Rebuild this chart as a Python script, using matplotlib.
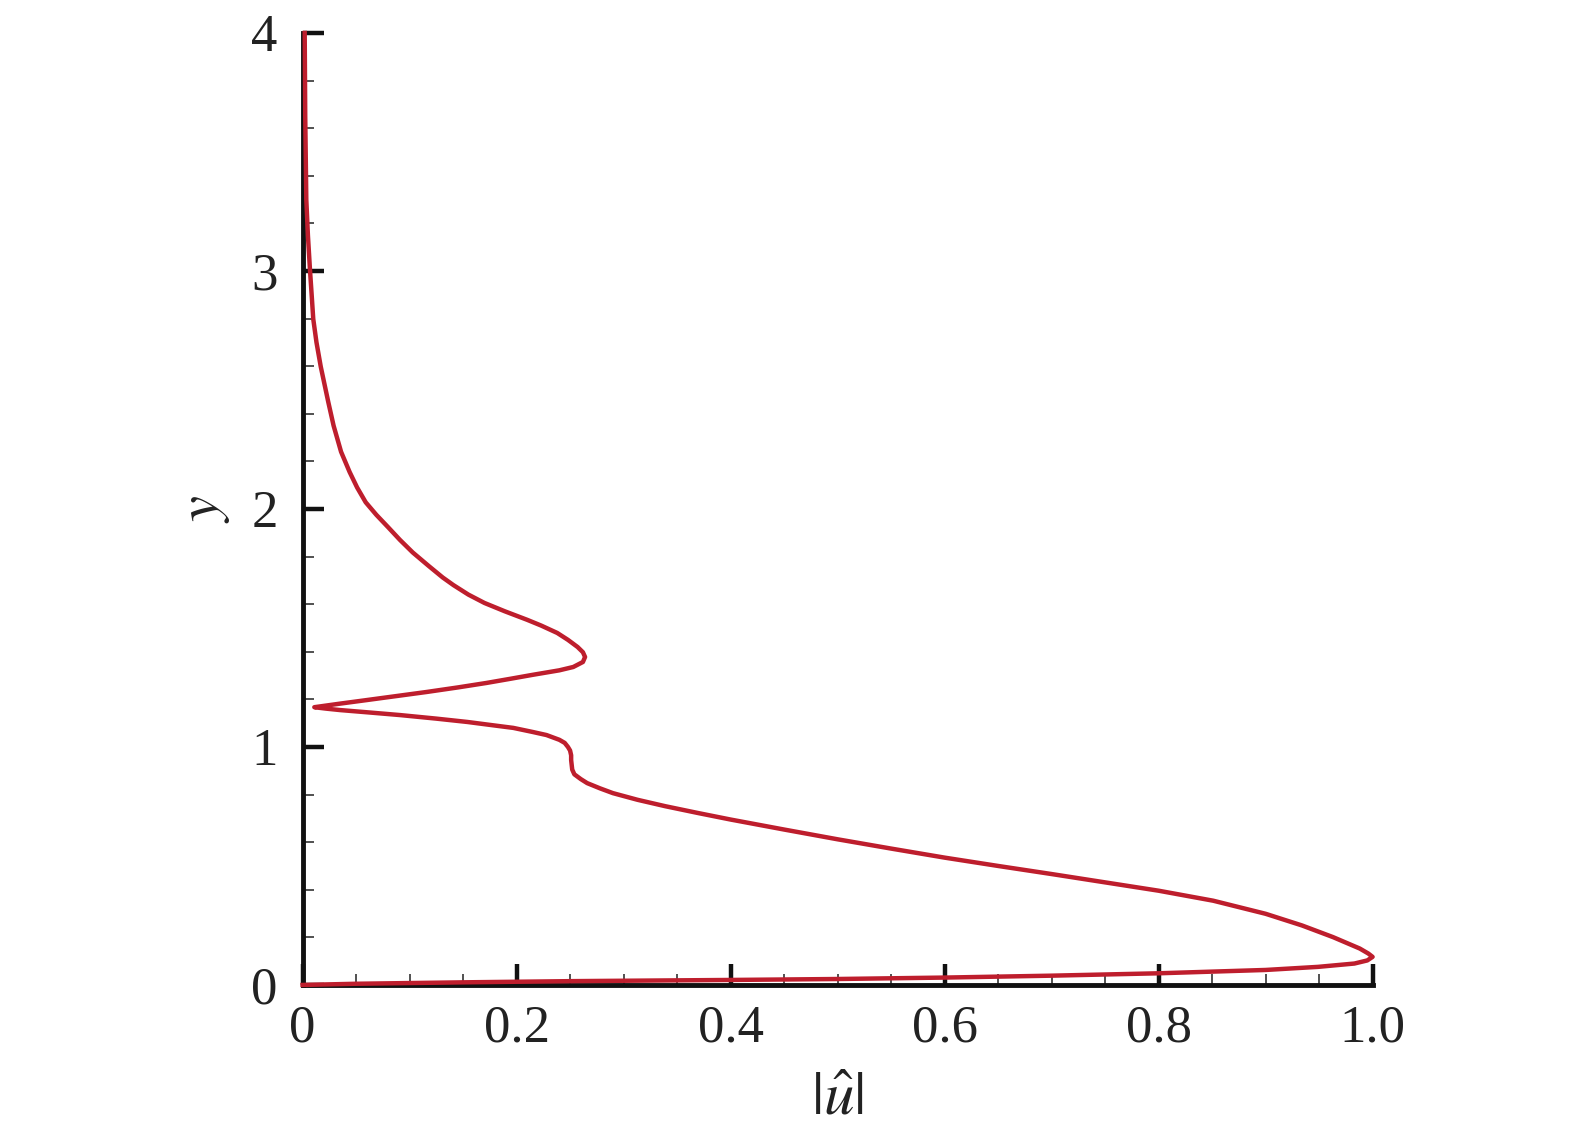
import matplotlib
matplotlib.use('Agg')
import matplotlib.pyplot as plt
from matplotlib.ticker import MultipleLocator, FixedFormatter, FixedLocator

plt.rcParams['font.family'] = ['Liberation Serif', 'DejaVu Serif']
plt.rcParams['mathtext.fontset'] = 'stix'

# |u_hat| profile (path from wall to free stream)
u_abs = [0.0, 0.05, 0.15, 0.251, 0.400, 0.500, 0.600, 0.700, 0.800, 0.900,
         0.949, 0.983, 0.995, 1.0, 0.996, 0.988, 0.963, 0.934, 0.900, 0.851,
         0.800, 0.750, 0.700, 0.650, 0.600, 0.550, 0.500, 0.450, 0.400, 0.370,
         0.339, 0.313, 0.290, 0.278, 0.266, 0.260, 0.254, 0.252, 0.251, 0.251,
         0.250, 0.248, 0.245, 0.240, 0.228, 0.215, 0.197, 0.178, 0.154, 0.125,
         0.091, 0.062, 0.035, 0.022, 0.011,
         0.035, 0.060, 0.088, 0.116, 0.145, 0.172, 0.195, 0.215, 0.240, 0.253,
         0.262, 0.264, 0.262, 0.257, 0.248, 0.238, 0.223, 0.210, 0.189, 0.170,
         0.155, 0.141, 0.131, 0.118, 0.103, 0.091, 0.080, 0.069, 0.059, 0.051,
         0.044, 0.036, 0.029, 0.024, 0.017, 0.013, 0.010, 0.0085, 0.007, 0.005,
         0.0035, 0.0025, 0.002]
y_pos = [0.0, 0.005, 0.011, 0.016, 0.021, 0.025, 0.031, 0.039, 0.049, 0.063,
         0.076, 0.090, 0.103, 0.118, 0.132, 0.153, 0.201, 0.250, 0.299, 0.354,
         0.396, 0.431, 0.466, 0.500, 0.535, 0.573, 0.612, 0.653, 0.695, 0.722,
         0.751, 0.778, 0.806, 0.826, 0.848, 0.865, 0.885, 0.905, 0.945, 0.965,
         0.985, 1.000, 1.017, 1.030, 1.050, 1.063, 1.080, 1.091, 1.105, 1.119,
         1.134, 1.145, 1.155, 1.161, 1.167,
         1.182, 1.197, 1.214, 1.231, 1.250, 1.269, 1.287, 1.303, 1.322, 1.336,
         1.357, 1.378, 1.398, 1.420, 1.450, 1.479, 1.510, 1.534, 1.570, 1.605,
         1.640, 1.680, 1.712, 1.760, 1.817, 1.870, 1.923, 1.975, 2.028, 2.090,
         2.155, 2.240, 2.350, 2.450, 2.598, 2.700, 2.798, 2.900, 3.000, 3.150,
         3.300, 3.650, 4.000]

xticks = [0, 0.2, 0.4, 0.6, 0.8, 1.0]
xtick_labels = ['0', '0.2', '0.4', '0.6', '0.8', '1.0']
yticks = [0, 1, 2, 3, 4]
ytick_labels = ['0', '1', '2', '3', '4']

fig = plt.figure(figsize=(15.75, 11.32), dpi=100)
ax = fig.add_axes([0.1921, 0.1299, 0.6794, 0.8410])

ax.plot(u_abs, y_pos, color='#BE1E2D', lw=3.2, clip_on=False, zorder=3,
        solid_joinstyle='round')

ax.set_xlim(0, 1.0)
ax.set_ylim(0, 4)

for side in ['top', 'right']:
    ax.spines[side].set_visible(False)
for side in ['left', 'bottom']:
    ax.spines[side].set_linewidth(3.5)
    ax.spines[side].set_color('#111111')

ax.xaxis.set_major_locator(FixedLocator(xticks))
ax.xaxis.set_major_formatter(FixedFormatter(xtick_labels))
ax.yaxis.set_major_locator(FixedLocator(yticks))
ax.yaxis.set_major_formatter(FixedFormatter(ytick_labels))
ax.xaxis.set_minor_locator(MultipleLocator(0.05))
ax.yaxis.set_minor_locator(MultipleLocator(0.2))

ax.tick_params(which='major', direction='in', length=15, width=3.2, color='#111111',
               labelsize=38, labelcolor='#222222')
ax.tick_params(which='minor', direction='in', length=8, width=1.1, color='#222222')
ax.tick_params(axis='x', which='major', pad=14)
ax.tick_params(axis='y', which='major', pad=18)

ax.set_xlabel(r'$|\hat{u}|$', fontsize=44, color='#222222', labelpad=14)
ax.set_ylabel(r'$y$', fontsize=42, color='#222222', labelpad=14)

fig.savefig('out.png', dpi=100)
